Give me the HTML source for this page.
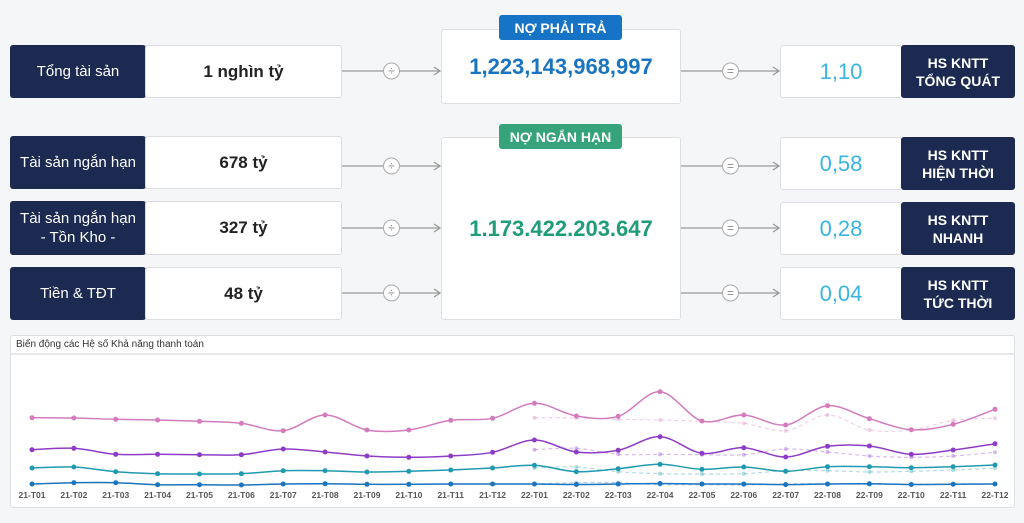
<!DOCTYPE html>
<html><head><meta charset="utf-8"><style>
body{margin:0;width:1024px;height:523px;background:#f5f6f8;font-family:"Liberation Sans",sans-serif;position:relative;overflow:hidden}
.a{position:absolute;box-sizing:border-box}
.dk{background:#1c2a52;color:#fff;border-radius:3px;display:flex;align-items:center;justify-content:center;text-align:center;font-size:15px;line-height:19px}
.wb{background:#fff;border:1px solid #dcdee2;border-radius:3px;display:flex;align-items:center;justify-content:center;font-weight:bold;font-size:17px;color:#222}
.rv{background:#fff;border:1px solid #dcdee2;border-radius:3px;display:flex;align-items:center;justify-content:center;font-size:22px;color:#3ab4e0}
.rl{font-size:14px;font-weight:bold;line-height:18px}
.badge{color:#fff;font-weight:bold;font-size:14px;border-radius:3px;display:flex;align-items:center;justify-content:center}
</style></head><body>
<div class="a dk" style="left:10px;top:45px;width:136px;height:53px">Tổng tài sản</div>
<div class="a wb" style="left:145px;top:45px;width:197px;height:53px">1 nghìn tỷ</div>
<div class="a dk" style="left:10px;top:136px;width:136px;height:53px">Tài sản ngắn hạn</div>
<div class="a wb" style="left:145px;top:136px;width:197px;height:53px">678 tỷ</div>
<div class="a dk" style="left:10px;top:201px;width:136px;height:54px">Tài sản ngắn hạn<br>- Tồn Kho -</div>
<div class="a wb" style="left:145px;top:201px;width:197px;height:54px">327 tỷ</div>
<div class="a dk" style="left:10px;top:267px;width:136px;height:53px">Tiền &amp; TĐT</div>
<div class="a wb" style="left:145px;top:267px;width:197px;height:53px">48 tỷ</div>

<div class="a wb" style="left:441px;top:29px;width:240px;height:75px;color:#1a74c0;font-size:22px">1,223,143,968,997</div>
<div class="a badge" style="left:499px;top:15px;width:123px;height:25px;background:#1673c6">NỢ PHẢI TRẢ</div>
<div class="a wb" style="left:441px;top:137px;width:240px;height:183px;color:#1f9c7a;font-size:22px">1.173.422.203.647</div>
<div class="a badge" style="left:499px;top:124px;width:123px;height:25px;background:#36a37a">NỢ NGẮN HẠN</div>

<div class="a rv" style="left:780px;top:45px;width:122px;height:53px">1,10</div>
<div class="a dk rl" style="left:901px;top:45px;width:114px;height:53px">HS KNTT<br>TỔNG QUÁT</div>
<div class="a rv" style="left:780px;top:137px;width:122px;height:53px">0,58</div>
<div class="a dk rl" style="left:901px;top:137px;width:114px;height:53px">HS KNTT<br>HIỆN THỜI</div>
<div class="a rv" style="left:780px;top:202px;width:122px;height:53px">0,28</div>
<div class="a dk rl" style="left:901px;top:202px;width:114px;height:53px">HS KNTT<br>NHANH</div>
<div class="a rv" style="left:780px;top:267px;width:122px;height:53px">0,04</div>
<div class="a dk rl" style="left:901px;top:267px;width:114px;height:53px">HS KNTT<br>TỨC THỜI</div>

<svg class="a" style="left:0;top:0" width="1024" height="330" id="conn"></svg>

<div class="a" style="left:10px;top:335px;width:1005px;height:173px;background:#fff;border:1px solid #dcdee2;border-radius:3px">
<div style="height:19px;border-bottom:2px solid #e6e7ea;font-size:10px;color:#333;padding:3px 0 0 5px;box-sizing:border-box">Biến động các Hệ số Khả năng thanh toán</div>
</div>
<svg class="a" style="left:0;top:0" width="1024" height="523" id="ch"></svg>
<script>
var ns="http://www.w3.org/2000/svg";
function el(p,t,a){var e=document.createElementNS(ns,t);for(var k in a)e.setAttribute(k,a[k]);p.appendChild(e);return e;}
var c=document.getElementById('conn');
function conn(x1,x2,y,sym){el(c,'line',{x1:x1,x2:x2-1,y1:y,y2:y,stroke:'#999','stroke-width':1.3});
el(c,'path',{d:'M'+(x2-7)+' '+(y-4)+'L'+(x2-1)+' '+y+'L'+(x2-7)+' '+(y+4),stroke:'#999',fill:'none','stroke-width':1.3});
var cx=(x1+x2)/2;el(c,'circle',{cx:cx,cy:y,r:8,fill:'#fff',stroke:'#aaa','stroke-width':1});
var t=el(c,'text',{x:cx,y:y+4,'text-anchor':'middle','font-size':12,fill:'#888','font-family':'Liberation Sans'});t.textContent=sym;}
[[71,'÷','='],[166,'÷','='],[228,'÷','='],[293,'÷','=']].forEach(function(r){conn(342,441,r[0],r[1]);conn(681,780,r[0],r[2]);});
var s=document.getElementById('ch');
var X=function(i){return 32+i*41.87;};
var data=[
['#d37bbd',[417.7,418,419.3,420,421.3,423.3,430.7,415,430,430,420.3,418.3],[403.3,416,416.3,391.7,421,415,425,405.7,418.7,429.7,424.3,409.3]],
['#8e3cc8',[449.7,448.3,454.3,454.3,454.7,454.7,449,452,456,457.3,456,452.3],[440,452,450.3,436.7,453.3,447.7,457,446.3,446,454.3,450,443.7]],
['#1f9ab0',[468,467,471.7,473.7,474,473.7,470.7,470.7,472,471.3,470,468],[465.3,471.7,468.7,464.3,469.3,467,471.3,466.7,466.7,467.7,466.7,465]],
['#1a74c0',[484,482.7,482.7,484.7,484.7,485,484,483.7,484.3,484.3,484,484],[484,484.5,484,483.5,484,484,484.6,484,483.8,484.5,484.2,484]]];
function path(pts){var d='M'+pts[0][0]+' '+pts[0][1];for(var i=0;i<pts.length-1;i++){var p0=pts[i-1]||pts[i],p1=pts[i],p2=pts[i+1],p3=pts[i+2]||p2;
d+='C'+(p1[0]+(p2[0]-p0[0])/6)+' '+(p1[1]+(p2[1]-p0[1])/6)+' '+(p2[0]-(p3[0]-p1[0])/6)+' '+(p2[1]-(p3[1]-p1[1])/6)+' '+p2[0]+' '+p2[1];}return d;}
data.forEach(function(d){
var prev=d[1].map(function(v,i){return [X(i+12),v];});
el(s,'path',{d:path(prev),stroke:d[0],'stroke-opacity':0.35,'stroke-dasharray':'4,3',fill:'none','stroke-width':1.2});
prev.forEach(function(p){el(s,'circle',{cx:p[0],cy:p[1],r:2,fill:d[0],'fill-opacity':0.35});});
var all=d[1].concat(d[2]).map(function(v,i){return [X(i),v];});
el(s,'path',{d:path(all),stroke:d[0],fill:'none','stroke-width':1.5});
all.forEach(function(p){el(s,'circle',{cx:p[0],cy:p[1],r:2.5,fill:d[0]});});
});
for(var i=0;i<24;i++){var t=el(s,'text',{x:X(i),y:498,'text-anchor':'middle','font-size':8.5,'font-weight':'bold',fill:'#555','font-family':'Liberation Sans'});
t.textContent=(i<12?'21':'22')+'-T'+String(i%12+1).padStart(2,'0');}
</script>
</body></html>
